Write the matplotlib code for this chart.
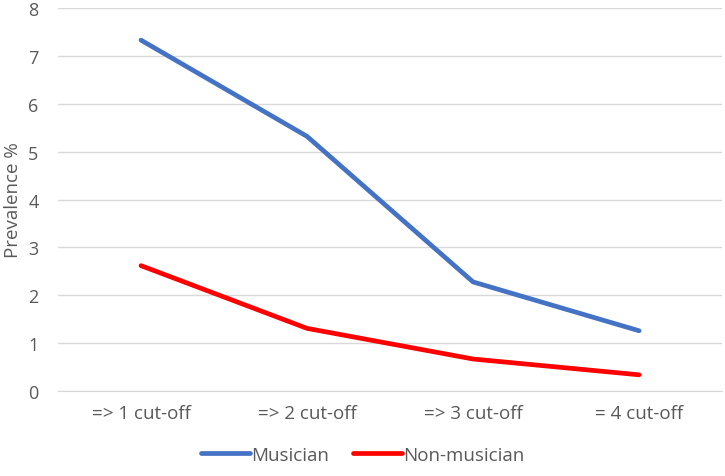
import matplotlib
matplotlib.use("Agg")
import matplotlib.pyplot as plt

plt.rcParams['font.family'] = ['Open Sans', 'DejaVu Sans']

categories = ["=> 1 cut-off", "=> 2 cut-off", "=> 3 cut-off", "= 4 cut-off"]
musician = [7.33, 5.32, 2.28, 1.26]
non_musician = [2.62, 1.31, 0.67, 0.34]

fig = plt.figure(figsize=(7.25, 4.77), dpi=100)
ax = fig.add_axes([0.08, 0.178, 0.916, 0.803])

x = list(range(len(categories)))
ax.plot(x, musician, color='#4472C4', lw=3.4, solid_capstyle='round', label='Musician')
ax.plot(x, non_musician, color='#FF0000', lw=3.4, solid_capstyle='round', label='Non-musician')

ax.set_xlim(-0.5, 3.5)
ax.set_ylim(0, 8)
ax.set_yticks(range(0, 9))
ax.set_xticks(x)
ax.set_xticklabels(categories)
ax.grid(axis='y', color='#d9d9d9', lw=1)
ax.set_axisbelow(True)
for s in ax.spines.values():
    s.set_visible(False)
ax.spines['bottom'].set_visible(True)
ax.spines['bottom'].set_color('#d9d9d9')
ax.tick_params(length=0, colors='#595959', labelsize=13)
ax.tick_params(axis='x', labelsize=13.5, pad=9)
ax.tick_params(axis='y', pad=14)
ax.set_ylabel('Prevalence %', color='#595959', fontsize=13.5)
ax.yaxis.set_label_coords(-0.054, 0.5)

fig.legend(loc='lower center', bbox_to_anchor=(0.5, -0.01), ncol=2, frameon=False,
           fontsize=13.5, handlelength=2.6, handletextpad=0.05, columnspacing=1.3,
           labelcolor='#595959')

fig.savefig('out.png', dpi=100)
